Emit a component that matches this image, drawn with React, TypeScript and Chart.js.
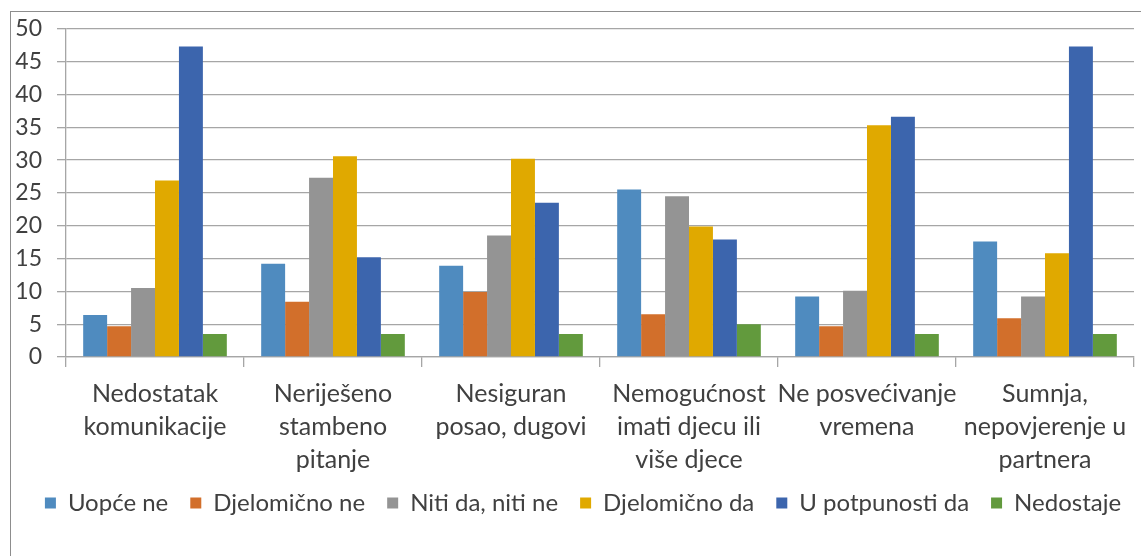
import React, { useEffect, useRef } from "react";
import { Chart, registerables } from "chart.js";

Chart.register(...registerables);

const categories: string[][] = [
  ["Nedostatak", "komunikacije"],
  ["Neriješeno", "stambeno", "pitanje"],
  ["Nesiguran", "posao, dugovi"],
  ["Nemogućnost", "imati djecu ili", "više djece"],
  ["Ne posvećivanje", "vremena"],
  ["Sumnja,", "nepovjerenje u", "partnera"],
];

const seriesNames = [
  "Uopće ne",
  "Djelomično ne",
  "Niti da, niti ne",
  "Djelomično da",
  "U potpunosti da",
  "Nedostaje",
];

const uopceNe = [6.4, 14.2, 13.9, 25.5, 9.2, 17.6];
const djelomicnoNe = [4.7, 8.4, 9.9, 6.5, 4.7, 5.9];
const nitiDaNitiNe = [10.5, 27.3, 18.5, 24.5, 10.1, 9.2];
const djelomicnoDa = [26.9, 30.6, 30.2, 19.9, 35.3, 15.8];
const uPotpunostiDa = [47.3, 15.2, 23.5, 17.9, 36.6, 47.3];
const nedostaje = [3.5, 3.5, 3.5, 5.0, 3.5, 3.5];

const yTicks = [0, 5, 10, 15, 20, 25, 30, 35, 40, 45, 50];

const colors = ["#4F8BBF", "#D26F2B", "#949494", "#E0A900", "#3C65AD", "#629A3D"];

const FONT = "Lato";

const legendShift = {
  id: "legendShift",
  afterLayout(chart: any) {
    const lg = chart.legend;
    if (!lg) return;
    lg.top -= 7;
    lg.bottom -= 7;
    lg.left += 16;
    lg.right += 16;
  },
};

export default function App() {
  const canvasRef = useRef<HTMLCanvasElement | null>(null);

  useEffect(() => {
    const canvas = canvasRef.current;
    if (!canvas) return;
    const values = [uopceNe, djelomicnoNe, nitiDaNitiNe, djelomicnoDa, uPotpunostiDa, nedostaje];
    const chart = new Chart(canvas, {
      type: "bar",
      data: {
        labels: categories,
        datasets: values.map((v, i) => ({
          label: seriesNames[i],
          data: v,
          backgroundColor: colors[i],
          borderWidth: 0,
          categoryPercentage: 0.807,
          barPercentage: 1.0,
        })),
      },
      plugins: [legendShift],
      options: {
        animation: false,
        responsive: true,
        maintainAspectRatio: false,
        layout: { padding: { left: 0, right: 7, top: 27, bottom: 24 } },
        plugins: {
          tooltip: { enabled: false },
          legend: {
            position: "bottom",
            labels: {
              boxWidth: 11,
              boxHeight: 11,
              padding: 22,
              color: "#404040",
              font: { family: FONT, size: 24 },
            },
          },
        },
        scales: {
          x: {
            type: "category",
            offset: true,
            afterFit: (scale: any) => {
              scale.height = 119;
            },
            grid: {
              display: true,
              offset: true,
              drawOnChartArea: false,
              drawTicks: true,
              tickLength: 10,
              color: "#a6a6a6",
              lineWidth: 1.3,
            },
            border: { display: true, color: "#a6a6a6", width: 1.3 },
            ticks: {
              autoSkip: false,
              maxRotation: 0,
              minRotation: 0,
              padding: 10,
              color: "#404040",
              font: { family: FONT, size: 25, lineHeight: 1.32 },
            },
          },
          y: {
            min: 0,
            max: 50,
            afterFit: (scale: any) => {
              scale.width = 66;
            },
            afterBuildTicks: (scale: any) => {
              scale.ticks = yTicks.map((v) => ({ value: v }));
            },
            grid: {
              color: "#a6a6a6",
              lineWidth: 1.3,
              drawTicks: true,
              tickLength: 9,
            },
            border: { display: true, color: "#a6a6a6", width: 1.3 },
            ticks: {
              autoSkip: false,
              stepSize: 5,
              padding: 15,
              color: "#404040",
              font: { family: FONT, size: 23 },
            },
          },
        },
      },
    });
    return () => chart.destroy();
  }, []);

  return (
    <div style={{ position: "fixed", left: 0, top: 0, width: 1141, height: 556, background: "#fff" }}>
      <div style={{ position: "absolute", left: 10, top: 11, width: 1131, height: 1, background: "#8d8d8d" }} />
      <div style={{ position: "absolute", left: 10, top: 11, width: 1, height: 545, background: "#8d8d8d" }} />
      <div style={{ position: "absolute", left: 0, top: 0, width: 1141, height: 556 }}>
        <canvas ref={canvasRef} />
      </div>
    </div>
  );
}
